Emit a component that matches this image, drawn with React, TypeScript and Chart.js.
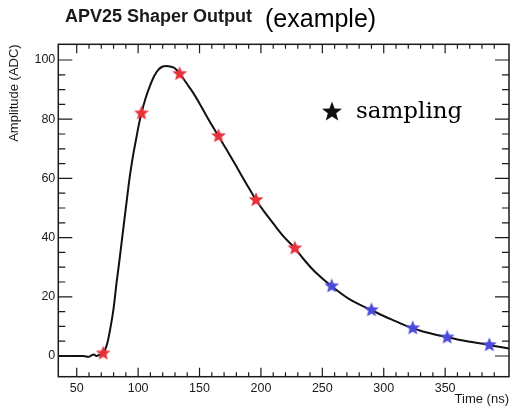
import React, { useEffect, useRef } from "react";
import { Chart, registerables } from "chart.js";

Chart.register(...registerables);

// Continuous shaper output curve (time in ns, amplitude in ADC)
const curveTime = [
  35, 40, 45, 50, 55, 58, 60, 62, 64, 66, 68, 70, 71.6, 73, 75, 77, 80, 82.4, 85, 87.8, 90, 93.2, 96, 98.7,
  100.5, 102.7, 106, 109.4, 113, 116.2, 120, 123, 126, 129.9, 134, 140, 145, 150, 155, 160, 165.4, 171,
  177, 182, 188, 196, 203, 210, 218, 227.6, 235, 242, 250, 257.6, 265, 272, 280, 290, 300, 310, 316,
  323.6, 330, 340, 351.7, 360, 370, 378, 386, 395, 402,
];
const curveAmp = [
  0, 0, 0, 0, 0, -0.2, -0.3, 0.2, 0.5, 0, 0.3, 0.2, 0.8, 2, 4.5, 8.5, 16, 24.6, 33, 42.6, 50, 60.6, 68, 74,
  78, 82, 87, 91, 94.5, 96.6, 97.8, 98, 97.8, 97.2, 95.3, 91.8, 88.8, 85.3, 81.6, 78, 74.3, 70.4,
  66.2, 62.6, 58.3, 52.7, 48.6, 44.8, 40.6, 36.4, 32.6, 29.3, 26.2, 23.6, 21.2, 19.2, 17.4, 15.5, 13.5, 11.7, 10.6,
  9.4, 8.5, 7.4, 6.3, 5.6, 4.8, 4.3, 3.7, 3, 2.5,
];

// Sampling points
const redTime = [71.6, 102.7, 133.8, 165.4, 196, 227.6];
const redAmp = [0.9, 82, 95.3, 74.3, 52.7, 36.4];
const blueTime = [257.6, 290, 323.6, 351.7, 386];
const blueAmp = [23.6, 15.5, 9.4, 6.3, 3.7];

// Axis labels
const xTickLabels = ["50", "100", "150", "200", "250", "300", "350", "400"];
const yTickLabels = ["0", "20", "40", "60", "80", "100"];

const xMin = 35;
const xMax = 402;
const yMin = -7;
const yMax = 105.3;

function makeStar(color: string, size: number, outer: number, inner: number) {
  const c = document.createElement("canvas");
  c.width = size;
  c.height = size;
  const ctx = c.getContext("2d")!;
  ctx.fillStyle = color;
  ctx.beginPath();
  for (let i = 0; i < 10; i++) {
    const r = i % 2 ? inner : outer;
    const a = -Math.PI / 2 + (i * Math.PI) / 5;
    ctx.lineTo(size / 2 + r * Math.cos(a), size / 2 + r * Math.sin(a));
  }
  ctx.closePath();
  ctx.fill();
  return c;
}

const FONT = "'Liberation Sans', Arial, Helvetica, sans-serif";

export default function App() {
  const canvasRef = useRef<HTMLCanvasElement | null>(null);

  useEffect(() => {
    const canvas = canvasRef.current!;
    const redStar = makeStar("#e8323a", 16, 7.8, 3.4);
    const blueStar = makeStar("#4a4ad8", 16, 7.8, 3.4);
    const blackStar = makeStar("#111111", 22, 10.5, 4.4);

    const framePlugin = {
      id: "rootFrame",
      afterDraw(chart: any) {
        const { ctx, chartArea } = chart;
        const { left, right, top, bottom } = chartArea;
        const xs = chart.scales.x;
        const ys = chart.scales.y;
        ctx.save();
        ctx.strokeStyle = "#1a1a1a";
        ctx.lineWidth = 1.5;
        ctx.strokeRect(left, top, right - left, bottom - top);
        ctx.lineWidth = 1.2;
        ctx.beginPath();
        xs.ticks.forEach((t: any) => {
          const v = t.value;
          if (Math.abs(v / 10 - Math.round(v / 10)) > 1e-6) return;
          const major = Math.round(v) % 50 === 0;
          const len = major ? 9 : 4.5;
          const px = xs.getPixelForValue(v);
          ctx.moveTo(px, bottom);
          ctx.lineTo(px, bottom - len);
          ctx.moveTo(px, top);
          ctx.lineTo(px, top + len);
        });
        ys.ticks.forEach((t: any) => {
          const v = t.value;
          if (Math.abs(v / 5 - Math.round(v / 5)) > 1e-6) return;
          const major = Math.round(v) % 20 === 0;
          const len = major ? 14 : 7;
          const py = ys.getPixelForValue(v);
          ctx.moveTo(left, py);
          ctx.lineTo(left + len, py);
          ctx.moveTo(right, py);
          ctx.lineTo(right - len, py);
        });
        ctx.stroke();
        // legend marker
        const lx = left + (332 - 58.3);
        const ly = top + (112 - 44.3);
        ctx.drawImage(blackStar, lx - 11, ly - 11);
        ctx.restore();
      },
    };

    const chart = new Chart(canvas, {
      type: "line",
      data: {
        datasets: [
          {
            label: "shaper",
            data: curveTime.map((t, i) => ({ x: t, y: curveAmp[i] })),
            borderColor: "#111111",
            borderWidth: 2,
            pointRadius: 0,
            cubicInterpolationMode: "monotone",
            order: 2,
          },
          {
            label: "sampling (red)",
            data: redTime.map((t, i) => ({ x: t, y: redAmp[i] })),
            showLine: false,
            pointStyle: redStar as any,
            pointRadius: 8,
            order: 1,
          },
          {
            label: "sampling (blue)",
            data: blueTime.map((t, i) => ({ x: t, y: blueAmp[i] })),
            showLine: false,
            pointStyle: blueStar as any,
            pointRadius: 8,
            order: 1,
          },
        ],
      },
      options: {
        animation: false,
        responsive: false,
        events: [],
        layout: { padding: { left: 0, top: 44.3, right: 8.7, bottom: 0 } },
        plugins: {
          legend: { display: false },
          tooltip: { enabled: false },
          title: { display: false },
        },
        scales: {
          x: {
            type: "linear",
            min: xMin,
            max: xMax,
            afterFit: (s: any) => {
              s.height = 406 - 376.7;
            },
            grid: { display: false, drawTicks: false, tickLength: 0 },
            border: { display: false },
            ticks: {
              stepSize: 10,
              maxTicksLimit: 1000,
              autoSkip: false,
              maxRotation: 0,
              padding: 4.5,
              color: "#1a1a1a",
              font: { family: FONT, size: 12.5 },
              callback: (v: any) => {
                const s = String(v);
                return xTickLabels.includes(s) ? s : "";
              },
            },
            title: {
              display: true,
              text: "Time (ns)",
              align: "end",
              color: "#1a1a1a",
              font: { family: FONT, size: 13, lineHeight: 1 },
              padding: { top: 0, bottom: 0 },
            },
          },
          y: {
            type: "linear",
            min: yMin,
            max: yMax,
            afterFit: (s: any) => {
              s.width = 58.3;
            },
            grid: { display: false, drawTicks: false, tickLength: 0 },
            border: { display: false },
            ticks: {
              stepSize: 5,
              maxTicksLimit: 1000,
              autoSkip: false,
              padding: 3,
              color: "#1a1a1a",
              font: { family: FONT, size: 12.5 },
              callback: (v: any) => {
                const s = String(v);
                return yTickLabels.includes(s) ? s : "";
              },
            },
            title: {
              display: true,
              text: "Amplitude (ADC)",
              align: "end",
              color: "#1a1a1a",
              font: { family: FONT, size: 13, lineHeight: 1 },
              padding: { top: 7.5, bottom: 0 },
            },
          },
        },
      },
      plugins: [framePlugin],
    } as any);

    return () => chart.destroy();
  }, []);

  return (
    <div
      style={{
        position: "fixed",
        left: 0,
        top: 0,
        width: 518,
        height: 406,
        background: "#ffffff",
        overflow: "hidden",
      }}
    >
      <canvas ref={canvasRef} width={518} height={406} style={{ position: "absolute", left: 0, top: 0 }} />
      <div
        style={{
          position: "absolute",
          left: 65,
          top: 6.5,
          fontFamily: FONT,
          fontWeight: "bold",
          fontSize: 18,
          lineHeight: "18px",
          color: "#1a1a1a",
          whiteSpace: "nowrap",
        }}
      >
        APV25 Shaper Output
      </div>
      <div
        style={{
          position: "absolute",
          left: 265,
          top: 5.5,
          fontFamily: FONT,
          fontSize: 25,
          lineHeight: "25px",
          color: "#000000",
          whiteSpace: "nowrap",
        }}
      >
        (example)
      </div>
      <div
        style={{
          position: "absolute",
          left: 356,
          top: 99,
          fontFamily: "'DejaVu Serif', serif",
          fontSize: 23,
          lineHeight: "23px",
          color: "#000000",
          whiteSpace: "nowrap",
        }}
      >
        sampling
      </div>
    </div>
  );
}
